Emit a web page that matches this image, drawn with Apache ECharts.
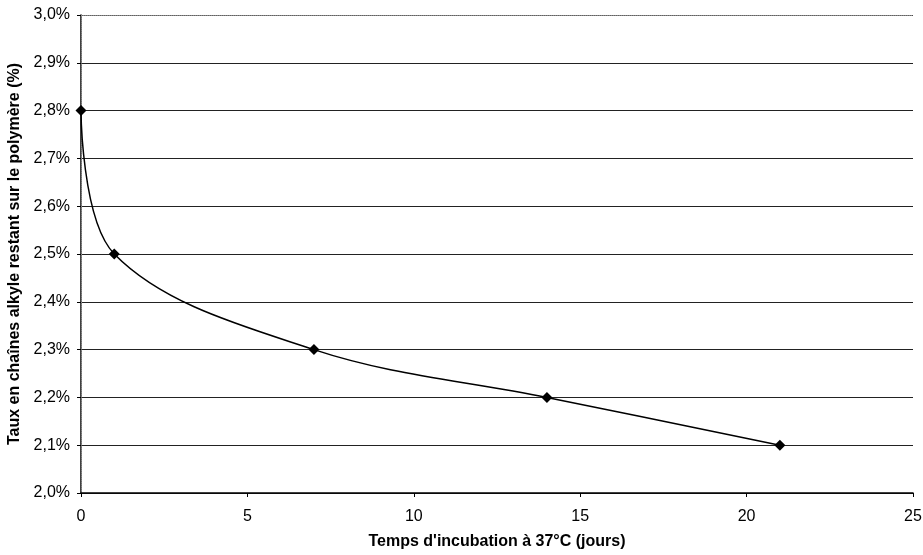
<!DOCTYPE html>
<html>
<head>
<meta charset="utf-8">
<script src="https://cdn.jsdelivr.net/npm/echarts@6/dist/echarts.min.js"></script>
<style>
  html, body { margin: 0; padding: 0; background: #fff; }
  #chart { width: 923px; height: 555px; }
</style>
</head>
<body>
<div id="chart"></div>
<script>
// données
const jours = [0, 1, 7, 14, 21]
const taux = [2.8, 2.5, 2.3, 2.2, 2.1]

const xTitle = "Temps d'incubation à 37°C (jours)"
const yTitle = 'Taux en chaînes alkyle restant sur le polymère (%)'

const font = "'Liberation Sans', Arial, sans-serif"

const chart = echarts.init(document.getElementById('chart'))

chart.setOption({
  animation: false,
  grid: { left: 81, right: 10, top: 15, bottom: 62, outerBoundsMode: 'none', containLabel: false },
  xAxis: [
    {
      type: 'value',
      min: 0,
      max: 25,
      interval: 5,
      name: xTitle,
      nameLocation: 'middle',
      nameGap: 41,
      nameTextStyle: { fontFamily: font, fontSize: 16, fontWeight: 'bold', color: '#000' },
      axisLine: { onZero: false, lineStyle: { color: '#000', width: 1.5 } },
      axisTick: { show: true, length: 4, lineStyle: { color: '#000' } },
      axisLabel: { fontFamily: font, fontSize: 16, color: '#000', margin: 16 },
      splitLine: { show: false },
    },
    {
      // bord supérieur en pointillé
      type: 'value',
      position: 'top',
      min: 0,
      max: 25,
      axisLine: { show: true, lineStyle: { color: '#888', type: 'dotted', width: 1 } },
      axisTick: { show: false },
      axisLabel: { show: false },
      splitLine: { show: false },
    },
  ],
  yAxis: [
    {
      type: 'value',
      min: 2.0,
      max: 3.0,
      interval: 0.1,
      name: yTitle,
      nameLocation: 'middle',
      nameGap: 58,
      nameRotate: 90,
      nameTextStyle: { fontFamily: font, fontSize: 16, fontWeight: 'bold', color: '#000' },
      axisLine: { show: true, lineStyle: { color: '#000', width: 1.5 } },
      axisTick: { show: true, length: 4, lineStyle: { color: '#000' } },
      axisLabel: {
        fontFamily: font,
        fontSize: 16,
        color: '#000',
        margin: 11,
        formatter: v => v.toFixed(1).replace('.', ',') + '%',
      },
      splitLine: { show: true, lineStyle: { color: '#222', width: 1 } },
    },
    {
      // bord droit en pointillé
      type: 'value',
      position: 'right',
      min: 2.0,
      max: 3.0,
      axisLine: { show: true, lineStyle: { color: '#888', type: 'dotted', width: 1 } },
      axisTick: { show: false },
      axisLabel: { show: false },
      splitLine: { show: false },
    },
  ],
  series: [
    {
      type: 'line',
      data: jours.map((j, i) => [j, taux[i]]),
      smooth: 0.35,
      symbol: 'diamond',
      symbolSize: 11,
      lineStyle: { color: '#000', width: 1.5 },
      itemStyle: { color: '#000' },
    },
  ],
})
</script>
</body>
</html>
